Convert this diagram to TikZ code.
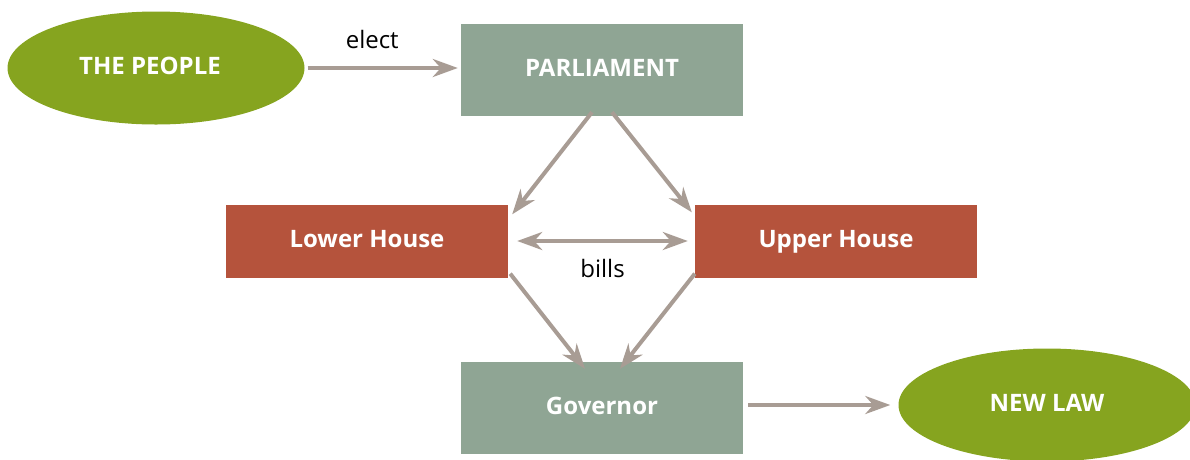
\documentclass[tikz,border=0pt]{standalone}
\usepackage{fontspec}
\setmainfont{Open Sans}
\usetikzlibrary{arrows.meta, shapes.geometric}

\definecolor{leafGreen}{HTML}{86A41F}
\definecolor{sageGreen}{HTML}{8FA594}
\definecolor{brickRed}{HTML}{B5533C}
\definecolor{arrowGray}{HTML}{A89C94}

\begin{document}
\begin{tikzpicture}[
    x=1pt, y=-1pt,            % pixel-like units, y going down
    >={Stealth[length=25pt, width=18pt, inset=8pt]},
    font=\fontsize{24}{28}\selectfont
  ]

  %--- Styles for ellipses, boxes and arrows ---
  \tikzset{
    ovalStyle/.style ={ellipse, fill=leafGreen, draw=none, text=white,
    font=\fontsize{24}{28}\selectfont\bfseries, minimum width=297pt,
    minimum height=113pt, inner sep=0pt, text height=18pt, text depth=6pt},
    chamberStyle/.style={rectangle, fill=sageGreen, draw=none, text=white,
    font=\fontsize{24}{28}\selectfont\bfseries, minimum width=282pt,
    minimum height=92pt, inner sep=0pt, text height=18pt, text depth=6pt},
    houseStyle/.style ={rectangle, fill=brickRed, draw=none, text=white,
    font=\fontsize{24}{28}\selectfont\bfseries, minimum width=282pt,
    minimum height=73pt, inner sep=0pt, text height=18pt, text depth=6pt},
    flowArrow/.style  ={->, line width=4pt, draw=arrowGray},
  }

  \useasboundingbox (0,0) rectangle (1190,459);

  %------------------------------------------------------------------------------
  % Nodes
  %------------------------------------------------------------------------------
  \node[ovalStyle]    (people) at (156,68)  {\hspace*{-12pt}THE PEOPLE};
  \node[chamberStyle] (parl)   at (602,70)  {PARLIAMENT};
  \node[houseStyle]   (lower)  at (367,241) {Lower House};
  \node[houseStyle]   (upper)  at (836,241) {Upper House};
  \node[chamberStyle] (gov)    at (602,408) {Governor};
  \node[ovalStyle]    (law)    at (1047,405) {NEW LAW};

  %------------------------------------------------------------------------------
  % Arrows
  %------------------------------------------------------------------------------
  \draw[flowArrow] ([xshift=3pt]people.east) -- ([xshift=-3pt]parl.west |- people.east)
    node[pos=0.43, above=14pt, text=black] (electLabel) {elect};

  \draw[flowArrow] ([xshift=-10pt, yshift=4pt]parl.south)
    -- ([xshift=4pt, yshift=-10pt]lower.north east);
  \draw[flowArrow] ([xshift=10pt, yshift=4pt]parl.south)
    -- ([xshift=-3pt, yshift=-8pt]upper.north west);

  \draw[<->, line width=4pt, draw=arrowGray] ([xshift=9pt]lower.east) -- ([xshift=-7pt]upper.west)
    node[midway, below=13pt, text=black] (billsLabel) {bills};

  \draw[flowArrow] ([xshift=2pt, yshift=4pt]lower.south east)
    -- ([xshift=-17pt, yshift=-7pt]gov.north);
  \draw[flowArrow] ([xshift=0pt, yshift=4pt]upper.south west)
    -- ([xshift=18pt, yshift=-7pt]gov.north);

  \draw[flowArrow] ([xshift=5pt]gov.east |- law.west) -- ([xshift=-8pt]law.west);

\end{tikzpicture}
\end{document}
